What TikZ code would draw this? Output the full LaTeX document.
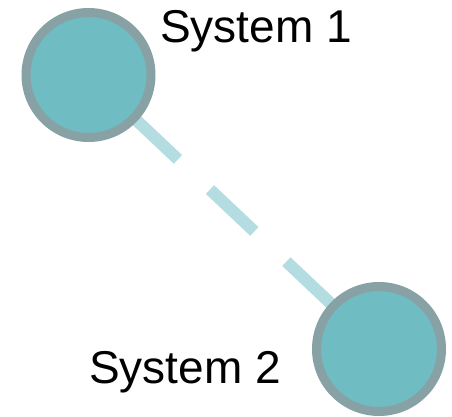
\documentclass[tikz,border=0pt]{standalone}
\usepackage{fontspec}
\setmainfont{Liberation Sans}
\usetikzlibrary{backgrounds}
\definecolor{sysfill}{HTML}{6FBCC2}
\definecolor{sysborder}{HTML}{87A1A4}
\definecolor{linkcol}{HTML}{B3DDE0}
\tikzset{
  sysnode/.style={circle, fill=sysfill, draw=sysborder, line width=9pt, minimum size=125pt, inner sep=0pt},
  syslabel/.style={font=\fontsize{46pt}{50pt}\selectfont, inner sep=0pt, anchor=base west},
  syslink/.style={draw=linkcol, line width=12pt, dash pattern=on 61pt off 44pt, dash phase=43pt}
}
\begin{document}
\begin{tikzpicture}[x=1pt,y=1pt]
\useasboundingbox (0,0) rectangle (452,416);
\clip (0,0) rectangle (452,416);
\node[sysnode] (s1) at (88.5,341) {};
\node[sysnode] (s2) at (379,67) {};
\node[syslabel] (l1) at (160,373) {System 1};
\node[syslabel] (l2) at (89,33) {System 2};
\begin{scope}[on background layer]
\draw[syslink] (s1.center) -- (s2.center);
\end{scope}
\end{tikzpicture}
\end{document}
